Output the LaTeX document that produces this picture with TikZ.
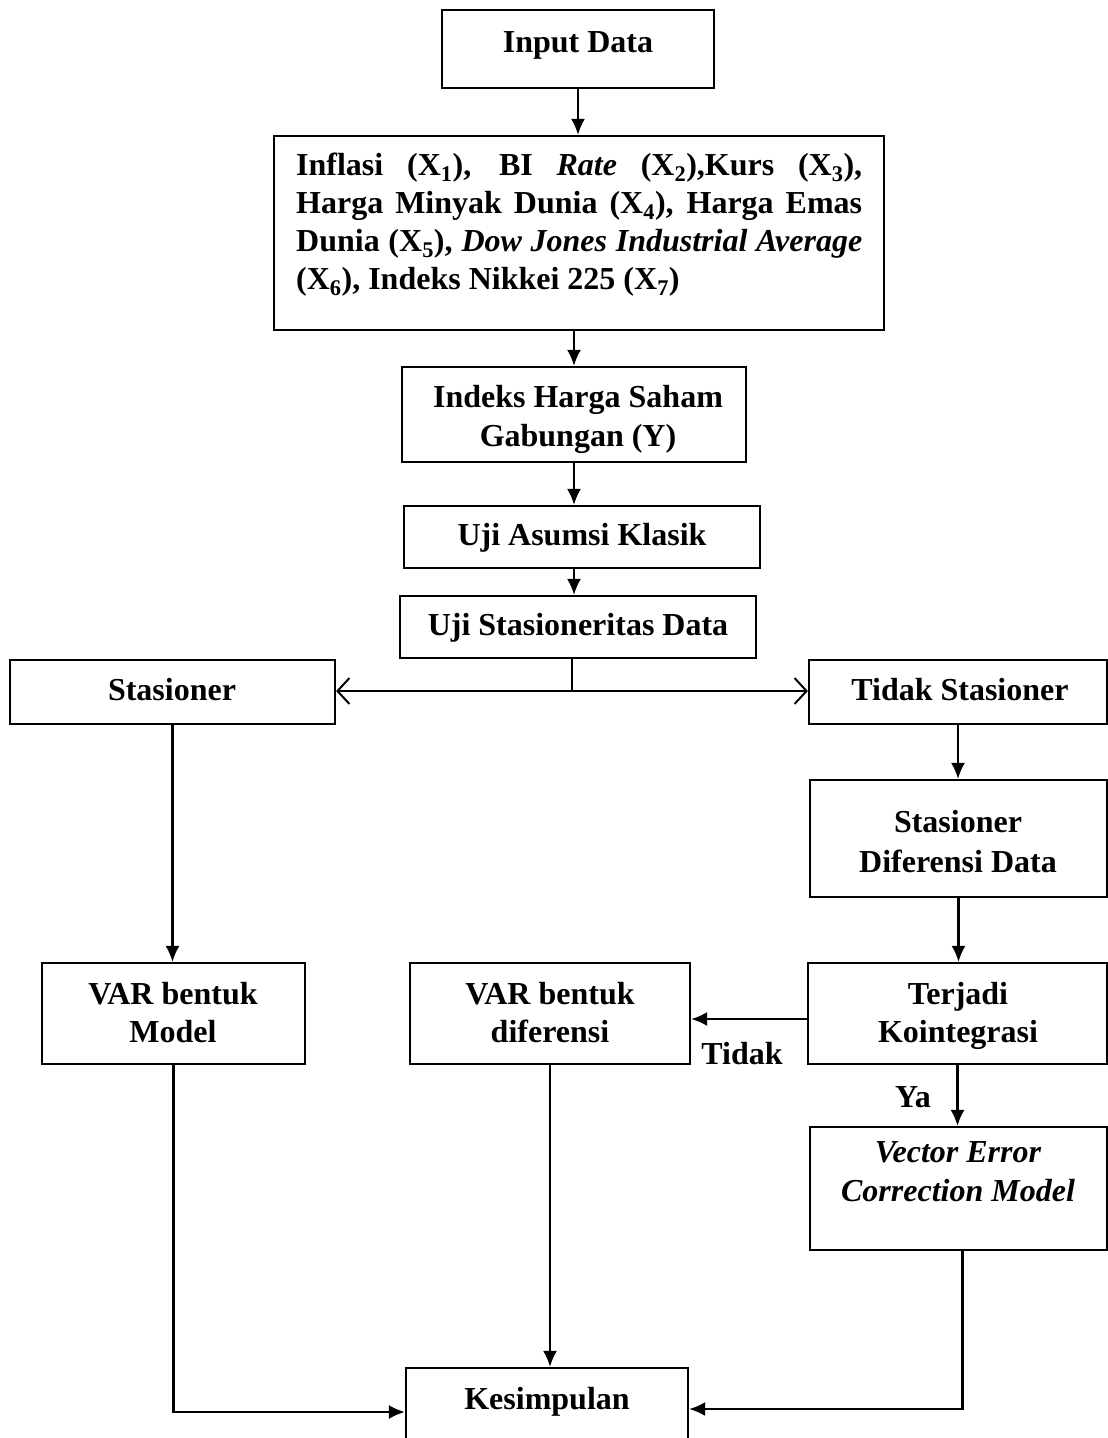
\documentclass[tikz,border=0pt]{standalone}
\usepackage{fontspec}
\setmainfont{Liberation Serif}
\usetikzlibrary{arrows.meta}
\begin{document}
\begin{tikzpicture}[x=1pt,y=-1pt,
  box/.style={draw, line width=2.2pt, inner sep=0pt},
  lbl/.style={font=\fontsize{32}{38}\selectfont\bfseries, anchor=base, inner sep=0pt},
  arr/.style={line width=2.2pt, -{Latex[length=16pt,width=14pt]}},
  ln/.style={line width=2.2pt},
  split/.style={line width=2.2pt, {Straight Barb[length=12pt,width=26pt,line width=2pt]}-{Straight Barb[length=12pt,width=26pt,line width=2pt]}}]
\useasboundingbox (0,0) rectangle (1108,1438);

% boxes
\node[box, minimum width=272pt, minimum height=78pt]  (inp)  at (578,49) {};
\node[box, minimum width=610pt, minimum height=194pt] (vars) at (579,233) {};
\node[box, minimum width=344pt, minimum height=95pt]  (ihsg) at (574,414.5) {};
\node[box, minimum width=356pt, minimum height=62pt]  (uak)  at (582,537) {};
\node[box, minimum width=356pt, minimum height=62pt]  (usd)  at (578,627) {};
\node[box, minimum width=325pt, minimum height=64pt]  (sta)  at (172.5,692) {};
\node[box, minimum width=298pt, minimum height=64pt]  (tsta) at (958,692) {};
\node[box, minimum width=297pt, minimum height=117pt] (sdd)  at (958.5,838.5) {};
\node[box, minimum width=263pt, minimum height=101pt] (varm) at (173.5,1013.5) {};
\node[box, minimum width=280pt, minimum height=101pt] (vard) at (550,1013.5) {};
\node[box, minimum width=299pt, minimum height=101pt] (tk)   at (957.5,1013.5) {};
\node[box, minimum width=297pt, minimum height=123pt] (vecm) at (958.5,1188.5) {};
\node[box, minimum width=282pt, minimum height=92pt]  (kes)  at (547,1414) {};

% texts
\node[lbl] (inp-t) at (578,52) {Input Data};
\node[lbl, anchor=base west] (v1) at (296,175) {\makebox[566pt][s]{Inflasi (X\textsubscript{1}), BI \textit{Rate} (X\textsubscript{2}),Kurs (X\textsubscript{3}),}};
\node[lbl, anchor=base west] (v2) at (296,213) {\makebox[566pt][s]{Harga Minyak Dunia (X\textsubscript{4}), Harga Emas}};
\node[lbl, anchor=base west] (v3) at (296,251) {\makebox[566pt][s]{Dunia (X\textsubscript{5}), \textit{Dow Jones Industrial Average}}};
\node[lbl, anchor=base west] (v4) at (296,289) {(X\textsubscript{6}), Indeks Nikkei 225 (X\textsubscript{7})};
\node[lbl] (ihsg-t1) at (578,407) {Indeks Harga Saham};
\node[lbl] (ihsg-t2) at (578,446) {Gabungan (Y)};
\node[lbl] (uak-t) at (582,545) {Uji Asumsi Klasik};
\node[lbl] (usd-t) at (578,635) {Uji Stasioneritas Data};
\node[lbl] (sta-t) at (172,700) {Stasioner};
\node[lbl] (tsta-t) at (960,700) {Tidak Stasioner};
\node[lbl] (sdd-t1) at (958,832) {Stasioner};
\node[lbl] (sdd-t2) at (958,872) {Diferensi Data};
\node[lbl] (varm-t1) at (173,1004) {VAR bentuk};
\node[lbl] (varm-t2) at (173,1042) {Model};
\node[lbl] (vard-t1) at (550,1004) {VAR bentuk};
\node[lbl] (vard-t2) at (550,1042) {diferensi};
\node[lbl] (tk-t1) at (958,1004) {Terjadi};
\node[lbl] (tk-t2) at (958,1042) {Kointegrasi};
\node[lbl] (vecm-t1) at (958,1162) {\textit{Vector Error}};
\node[lbl] (vecm-t2) at (958,1201) {\textit{Correction Model}};
\node[lbl] (kes-t) at (547,1409) {Kesimpulan};
\node[lbl] (tidak) at (742,1064) {Tidak};
\node[lbl] (ya) at (913,1107) {Ya};

% helper coordinates
\coordinate (sp) at (572,691);
\coordinate (ty) at (0,1019);
\coordinate (k1) at (0,1412);
\coordinate (k2) at (0,1409);

% connectors
\draw[arr] (inp.south) -- (inp.south |- vars.north);
\draw[arr] (ihsg.north |- vars.south) -- (ihsg.north);
\draw[arr] (ihsg.south) -- (ihsg.south |- uak.north);
\draw[arr] (ihsg.south |- uak.south) -- (ihsg.south |- usd.north);
\draw[ln] (usd.south -| sp) -- (sp);
\draw[split] (sta.east |- sp) -- (tsta.west |- sp);
\draw[arr] (sta.south) -- (sta.south |- varm.north);
\draw[arr] (tsta.south) -- (tsta.south |- sdd.north);
\draw[arr] (sdd.south) -- (sdd.south |- tk.north);
\draw[arr] (tk.west |- ty) -- (vard.east |- ty);
\draw[arr] (tk.south) -- (tk.south |- vecm.north);
\draw[arr] (varm.south) |- (kes.west |- k1);
\draw[arr] (vard.south) -- (vard.south |- kes.north);
\draw[arr] ([xshift=4pt]vecm.south) |- (kes.east |- k2);
\end{tikzpicture}
\end{document}
